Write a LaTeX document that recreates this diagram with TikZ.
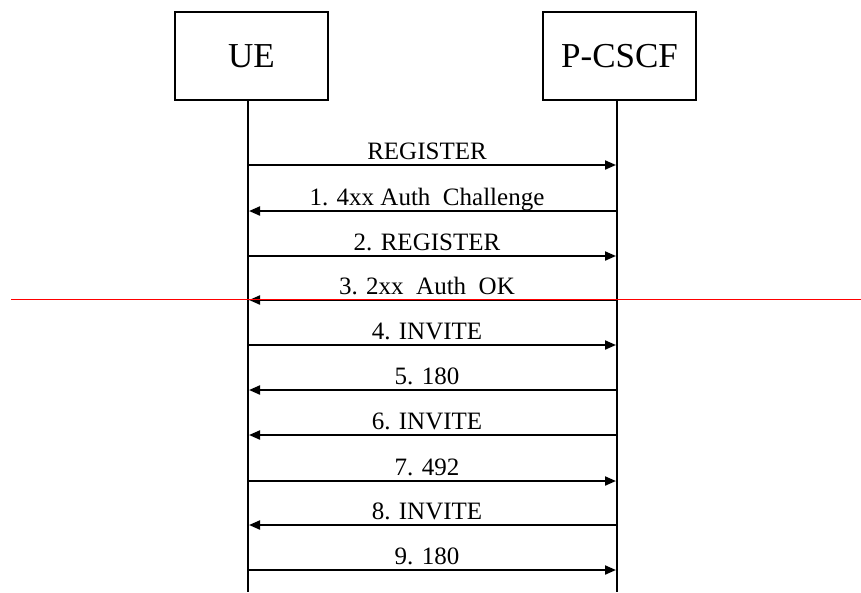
\documentclass[tikz,border=0pt]{standalone}
\usepackage{fontspec}
\setmainfont{Liberation Serif}
\usetikzlibrary{arrows.meta}

\begin{document}
\begin{tikzpicture}[x=1pt,y=1pt,
  entity/.style={draw,line width=2.5pt,minimum width=153pt,minimum height=88pt,
    inner sep=0pt,font=\fontsize{35}{40}\selectfont},
  lifeline/.style={line width=2.5pt},
  msg/.style={line width=2pt,-{Triangle[length=11pt,width=9pt]}},
  msglabel/.style={anchor=base,inner sep=0pt,font=\fontsize{25}{30}\selectfont},
  marker/.style={red,line width=1pt}]
\useasboundingbox (0,0) rectangle (861,-592);

% participants
\node[entity] (ue) at (251.5,-56) {UE};
\node[entity] (pcscf) at (619.5,-56) {P-CSCF};

% lifelines
\coordinate (ueTop) at (248,-100);
\coordinate (ueBot) at (248,-592);
\coordinate (pcTop) at (617,-100);
\coordinate (pcBot) at (617,-592);
\draw[lifeline] (ueTop) -- (ueBot);
\draw[lifeline] (pcTop) -- (pcBot);

% messages: y position / direction (r = UE to P-CSCF, l = back) / text
\foreach \i/\y/\dir/\txt in {
  0/165/r/{REGISTER},
  1/211/l/{1. 4xx Auth\ \ Challenge},
  2/256/r/{2. REGISTER},
  3/300/l/{3. 2xx\ \ Auth\ \ OK},
  4/345/r/{4. INVITE},
  5/390/l/{5. 180},
  6/435/l/{6. INVITE},
  7/481/r/{7. 492},
  8/525/l/{8. INVITE},
  9/570/r/{9. 180}}{
  \coordinate (u\i) at (249,-\y);
  \coordinate (p\i) at (616,-\y);
  \if r\dir
    \draw[msg] (u\i) -- (p\i);
  \else
    \draw[msg] (p\i) -- (u\i);
  \fi
  \node[msglabel] (lbl\i) at (427,-\y+6) {\txt};
}

% horizontal red marker line
\coordinate (mkA) at (11,-299);
\coordinate (mkB) at (861,-299);
\draw[marker] (mkA) -- (mkB);
\end{tikzpicture}
\end{document}
